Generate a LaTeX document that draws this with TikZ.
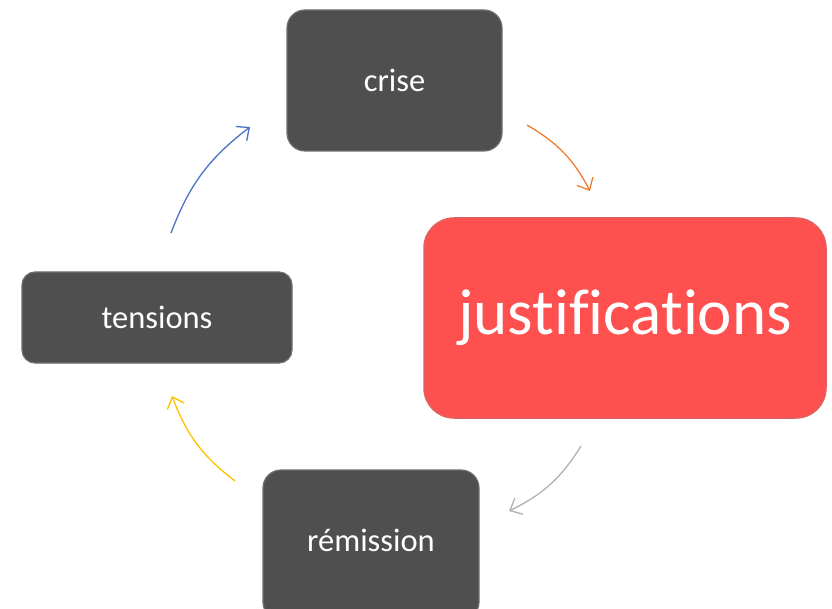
\documentclass[tikz,border=0pt]{standalone}
\usepackage{fontspec}
\setmainfont{Carlito}[Ligatures=NoCommon]
\usetikzlibrary{arrows.meta}
\definecolor{boxgray}{HTML}{4F4F4F}
\definecolor{boxedge}{HTML}{6E6E6E}
\definecolor{boxred}{HTML}{FF5050}
\definecolor{rededge}{HTML}{E06060}
\definecolor{arrblue}{HTML}{4A72C4}
\definecolor{arrorange}{HTML}{ED7D31}
\definecolor{arrgray}{HTML}{B0B0B0}
\definecolor{arryellow}{HTML}{FFC000}
\begin{document}
\begin{tikzpicture}[x=1pt,y=-1pt,
  darkbox/.style={draw=boxedge, line width=1.2pt, fill=boxgray, text=white,
    rounded corners=18pt, inner sep=0pt, font=\fontsize{32.5}{38}\selectfont},
  redbox/.style={draw=rededge, line width=1.5pt, fill=boxred, text=white,
    rounded corners=30pt, inner sep=0pt, font=\fontsize{65}{72}\selectfont},
  cyc/.style={line width=1.3pt, -{Straight Barb[length=10pt,width=18pt,line width=1.3pt]}, bend left=16}]
\useasboundingbox (0,0) rectangle (832,609);
\clip (0,0) rectangle (832,609);
\node[darkbox, minimum width=215pt, minimum height=141pt] (crise) at (394.5,80.5) {crise};
\node[redbox, minimum width=402pt, minimum height=200pt] (just) at (625,318) {justifications};
\node[darkbox, rounded corners=13pt, minimum width=270pt, minimum height=91pt] (tens) at (157,317.5) {tensions};
\node[darkbox, minimum width=216pt, minimum height=150pt] (rem) at (371,545) {};
\node[text=white, font=\fontsize{32.5}{38}\selectfont] (remtxt) at (371,540) {rémission};
\coordinate (b1) at (171,233);
\coordinate (b2) at (250,127);
\coordinate (o1) at (527,125);
\coordinate (o2) at (590,191);
\coordinate (g1) at (581,446);
\coordinate (g2) at (509,511);
\coordinate (y1) at (235,481);
\coordinate (y2) at (172,396);
\draw[cyc, arrblue] (b1) to (b2);
\draw[cyc, arrorange] (o1) to (o2);
\draw[cyc, arrgray] (g1) to (g2);
\draw[cyc, arryellow] (y1) to (y2);
\end{tikzpicture}
\end{document}
